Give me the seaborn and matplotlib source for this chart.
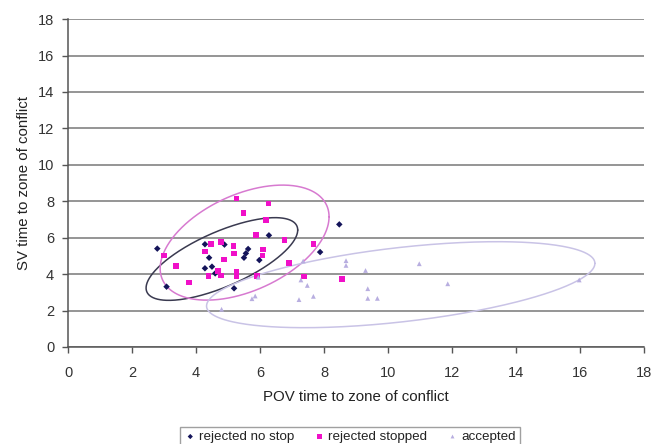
import numpy as np
import pandas as pd
import matplotlib
matplotlib.use("Agg")
import matplotlib.pyplot as plt
import seaborn as sns

# ---- data ----
no_stop_x = [2.79, 3.08, 4.28, 4.89, 4.41, 4.28, 4.50, 4.60, 5.19, 5.63, 5.56, 5.50, 5.98, 6.28, 7.88, 8.48]
no_stop_y = [5.40, 3.31, 5.64, 5.62, 4.90, 4.32, 4.41, 4.04, 3.22, 5.38, 5.14, 4.90, 4.77, 6.13, 5.21, 6.73]

stopped_x = [5.27, 6.26, 5.48, 6.18, 5.88, 6.76, 7.67, 3.00, 3.38, 3.79, 4.28, 4.47, 4.78, 5.17,
             5.18, 4.88, 6.10, 6.08, 6.90, 4.68, 4.78, 4.39, 5.27, 5.27, 5.90, 7.37, 8.57]
stopped_y = [8.14, 7.87, 7.35, 6.97, 6.15, 5.86, 5.64, 5.01, 4.46, 3.53, 5.23, 5.64, 5.75, 5.54,
             5.14, 4.81, 5.36, 5.03, 4.61, 4.17, 3.93, 3.90, 4.13, 3.86, 3.90, 3.86, 3.73]

accepted_x = [4.80, 5.85, 5.75, 5.95, 7.28, 7.35, 7.48, 7.67, 7.22, 8.69, 8.69, 9.30, 9.37, 9.37, 9.67, 10.98, 11.87, 15.98]
accepted_y = [2.07, 2.80, 2.65, 3.83, 3.68, 4.72, 3.38, 2.78, 2.60, 4.74, 4.48, 4.20, 3.20, 2.67, 2.67, 4.57, 3.47, 3.68]

groups = ["rejected no stop", "rejected stopped", "accepted"]

# ellipses: centre and conjugate semi-axis components (data units)
ell_cx = [4.81, 5.52, 10.40]
ell_cy = [4.83, 5.73, 3.42]
ell_a1 = [2.37, 2.64, 6.07]
ell_a2 = [1.59, 1.42, 1.17]
ell_b2 = [1.62, 2.82, 2.05]

x_ticks = list(range(0, 19, 2))
y_ticks = list(range(0, 19, 2))

# ---- styling ----
colors = {"rejected no stop": "#14145a", "rejected stopped": "#f010c8", "accepted": "#b8aee0"}
markers = {"rejected no stop": "D", "rejected stopped": "s", "accepted": "^"}
sizes_pt = {"rejected no stop": 11, "rejected stopped": 16, "accepted": 12}
ell_colors = ["#3a3a50", "#d77ad0", "#c9c3e6"]

df = pd.concat([
    pd.DataFrame({"x": no_stop_x, "y": no_stop_y, "group": groups[0]}),
    pd.DataFrame({"x": stopped_x, "y": stopped_y, "group": groups[1]}),
    pd.DataFrame({"x": accepted_x, "y": accepted_y, "group": groups[2]}),
], ignore_index=True)

sns.set_theme(style="white")
plt.rcParams["font.family"] = ["Liberation Sans", "DejaVu Sans"]

fig = plt.figure(figsize=(6.51, 4.44), dpi=100)
ax = fig.add_axes([0.1045, 0.2185, 0.8845, 0.7385])

for y in y_ticks:
    ax.axhline(y, color="#8c8c8c", lw=1.3, zorder=0)

t = np.linspace(0, 2 * np.pi, 400)
for i in range(3):
    ex = ell_cx[i] + ell_a1[i] * np.cos(t)
    ey = ell_cy[i] + ell_a2[i] * np.cos(t) + ell_b2[i] * np.sin(t)
    ax.plot(ex, ey, color=ell_colors[i], lw=1.1, zorder=1)

for g in groups:
    sub = df[df["group"] == g]
    sns.scatterplot(data=sub, x="x", y="y", ax=ax, color=colors[g], marker=markers[g],
                    s=sizes_pt[g], edgecolor="none", linewidth=0, label=g, zorder=3)

ax.set_xlim(0, 18)
ax.set_ylim(0, 18)
ax.set_xticks(x_ticks)
ax.set_yticks(y_ticks)
ax.tick_params(axis="both", direction="out", length=4, width=1, color="#555555",
               labelsize=10.5, labelcolor="#333333", bottom=True, left=True)
ax.tick_params(axis="x", pad=10)
ax.tick_params(axis="y", pad=6)
for s in ["top", "right"]:
    ax.spines[s].set_visible(False)
for s in ["left", "bottom"]:
    ax.spines[s].set_color("#555555")
    ax.spines[s].set_linewidth(1.1)

ax.set_xlabel("POV time to zone of conflict", fontsize=10.8, color="#222222", labelpad=7)
ax.set_ylabel("SV time to zone of conflict", fontsize=10.8, color="#222222", labelpad=5)

handles, labels = ax.get_legend_handles_labels()
if ax.legend_:
    ax.legend_.remove()
leg = fig.legend(handles, labels, loc="upper center", bbox_to_anchor=(0.5376, 0.054), ncol=3,
                 fontsize=9.6, frameon=True, fancybox=False, edgecolor="#888888",
                 handletextpad=0.2, columnspacing=1.45, borderpad=0.3, handlelength=0.9,
                 markerscale=0.8)
leg.get_frame().set_linewidth(1.0)
for txt in leg.get_texts():
    txt.set_color("#222222")

fig.savefig("out.png", dpi=100)
